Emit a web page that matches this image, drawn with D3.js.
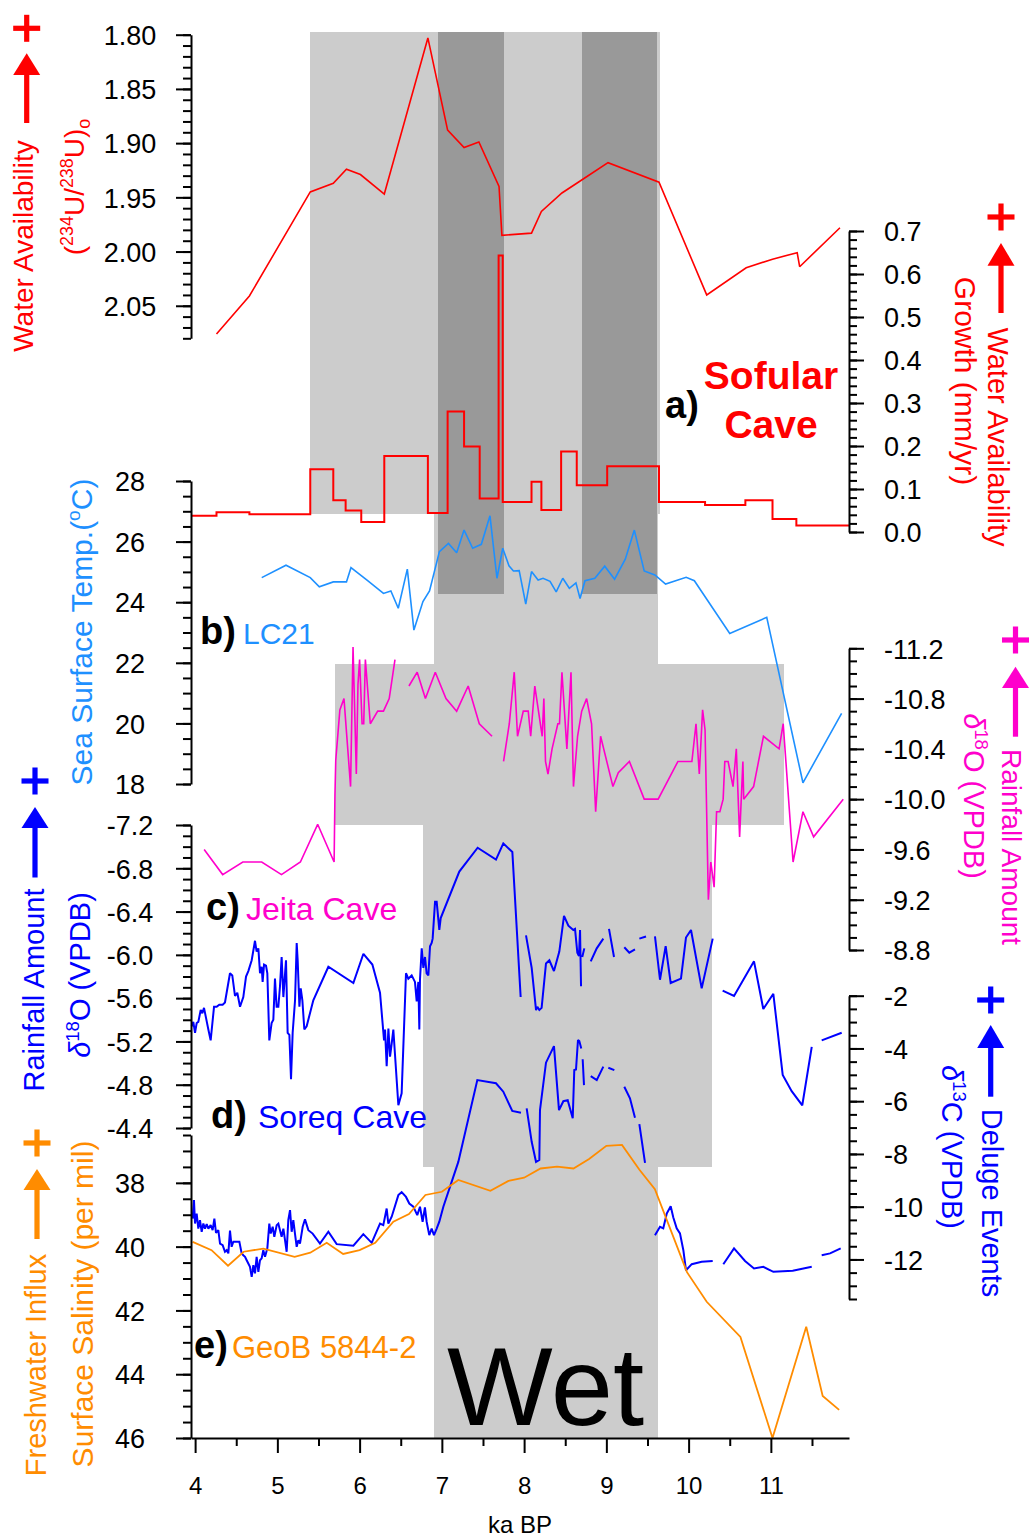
<!DOCTYPE html>
<html>
<head>
<meta charset="utf-8">
<script src="https://cdn.jsdelivr.net/npm/d3@7"></script>
<style>
  body { margin: 0; background: #fff; }
  svg { display: block; }
  text { font-family: "Liberation Sans", Arial, Helvetica, sans-serif; }
</style>
</head>
<body>
<svg id="chart" width="1029" height="1537"></svg>
<script>
// ---------------- Records (age in ka BP, value) ----------------
// a) Sofular Cave initial (234U/238U)
const uranium = [[4.26,2.076],[4.66,2.041],[5.40,1.945],[5.68,1.937],[5.84,1.924],[6.01,1.929],[6.30,1.947],
  [6.83,1.803],[7.07,1.888],[7.27,1.904],[7.45,1.899],[7.695,1.940],[7.73,1.985],[8.09,1.983],[8.21,1.963],
  [8.46,1.946],[8.70,1.934],[9.02,1.918],[9.64,1.936],[10.22,2.040],[10.70,2.015],[11.02,2.007],[11.32,2.001],
  [11.35,2.014],[11.84,1.978]];

// a) Sofular Cave growth rate (mm/yr), step starts
const growth = [[3.95,0.038],[4.26,0.046],[4.66,0.041],[5.40,0.146],[5.68,0.074],[5.83,0.050],[6.02,0.023],
  [6.30,0.177],[6.83,0.044],[7.07,0.280],[7.27,0.199],[7.46,0.078],[7.69,0.643],[7.74,0.070],[8.09,0.117],
  [8.21,0.051],[8.45,0.187],[8.64,0.109],[9.01,0.153],[9.64,0.070],[10.20,0.063],[10.69,0.074],[11.02,0.030],
  [11.31,0.015],[11.95,0.015]];

// b) LC21 sea surface temperature (degC)
const sst = [[4.81,24.81],[5.105,25.22],[5.40,24.81],[5.51,24.51],[5.68,24.67],[5.84,24.67],[5.895,25.14],
  [6.09,24.73],[6.29,24.29],[6.38,24.37],[6.47,23.80],[6.58,25.09],[6.66,23.08],[6.77,24.02],[6.85,24.37],
  [6.97,25.67],[7.08,25.94],[7.18,25.63],[7.27,26.38],[7.375,25.78],[7.48,25.91],[7.585,26.85],[7.67,24.79],
  [7.74,25.78],[7.816,25.20],[7.87,25.03],[7.94,25.04],[8.02,23.94],[8.09,25.01],[8.17,24.73],[8.23,24.79],
  [8.315,24.69],[8.39,24.34],[8.47,24.79],[8.55,24.46],[8.63,24.64],[8.68,24.12],[8.74,24.71],[8.86,24.79],
  [8.98,25.19],[9.10,24.76],[9.23,25.42],[9.34,26.38],[9.46,25.03],[9.59,24.90],[9.72,24.60],[9.97,24.82],
  [10.07,24.71],[10.50,22.97],[10.95,23.50],[11.39,18.04],[11.86,20.33]];

// c) Jeita Cave d18O (permil VPDB); null marks a gap in the record
const jeita = [[4.11,-9.60],[4.335,-9.40],[4.58,-9.50],[4.81,-9.50],[5.05,-9.40],[5.28,-9.50],[5.49,-9.80],
  [5.69,-9.50],[5.70,-10.03],[5.71,-10.31],[5.76,-10.71],[5.81,-10.80],[5.89,-10.10],[5.92,-11.21],[5.96,-10.20],
  [5.98,-10.91],[6.00,-11.11],[6.03,-10.60],[6.05,-10.60],[6.07,-11.11],[6.13,-10.60],[6.22,-10.70],[6.29,-10.70],
  [6.36,-10.80],[6.43,-11.11], null,
  [6.60,-10.90],[6.70,-11.01],[6.80,-10.80],[6.92,-11.01],[7.05,-10.80],[7.18,-10.70],[7.32,-10.90],
  [7.455,-10.60],[7.61,-10.50], null,
  [7.75,-10.30],[7.82,-10.60],[7.88,-11.01],[7.92,-10.50],[7.99,-10.70],[8.05,-10.70],[8.08,-10.50],[8.13,-10.90],
  [8.22,-10.50],[8.24,-10.80],[8.26,-10.30],[8.29,-10.20],[8.34,-10.40],[8.41,-10.60],[8.43,-10.60],[8.46,-11.01],
  [8.52,-10.40],[8.57,-11.01],[8.60,-10.10],[8.65,-10.50],[8.70,-10.70],[8.76,-10.80],[8.82,-10.60],[8.87,-9.90],
  [8.93,-10.50],[9.08,-10.10],[9.145,-10.21],[9.28,-10.30],[9.46,-10.00],[9.63,-10.00],[9.87,-10.30],[10.04,-10.30],
  [10.09,-10.60],[10.13,-10.20],[10.17,-10.71],[10.20,-10.55],[10.24,-9.20],[10.27,-9.50],[10.31,-9.30],
  [10.34,-9.90],[10.38,-9.90],[10.42,-10.00],[10.44,-10.30],[10.48,-10.30],[10.54,-10.10],[10.58,-10.40],
  [10.62,-9.70],[10.66,-10.30],[10.67,-10.00],[10.79,-10.10],[10.91,-10.50],[11.10,-10.40],[11.15,-10.60],
  [11.27,-9.50],[11.39,-9.90],[11.52,-9.70],[11.88,-10.00]];

// c) Soreq Cave d18O (permil VPDB)
const soreqO = [[3.958,-5.34],[3.978,-5.38],[3.999,-5.28],[4.019,-5.37],[4.039,-5.38],[4.068,-5.49],[4.088,-5.46],
  [4.108,-5.51],[4.132,-5.42],[4.161,-5.31],[4.189,-5.21],[4.230,-5.52],[4.262,-5.52],[4.294,-5.54],[4.335,-5.54],
  [4.363,-5.56],[4.424,-5.83],[4.452,-5.81],[4.485,-5.62],[4.513,-5.65],[4.546,-5.52],[4.586,-5.61],[4.619,-5.80],
  [4.647,-5.85],[4.688,-5.95],[4.728,-6.13],[4.748,-6.03],[4.769,-6.06],[4.789,-5.83],[4.809,-5.89],[4.821,-5.75],
  [4.838,-5.91],[4.862,-5.90],[4.878,-5.83],[4.902,-5.21],[4.930,-5.37],[4.951,-5.40],[4.971,-5.78],[4.991,-5.52],
  [5.012,-5.52],[5.032,-5.71],[5.052,-5.98],[5.073,-5.61],[5.105,-5.95],[5.125,-5.28],[5.146,-5.26],[5.166,-4.85],
  [5.186,-5.28],[5.215,-5.58],[5.235,-6.11],[5.247,-5.95],[5.268,-5.52],[5.284,-5.69],[5.304,-5.58],[5.328,-5.31],
  [5.356,-5.34],[5.437,-5.58],[5.620,-5.89],[5.924,-5.74],[6.046,-6.01],[6.155,-5.91],[6.248,-5.65],[6.297,-5.21],
  [6.309,-5.31],[6.329,-4.97],[6.350,-5.32],[6.370,-5.06],[6.390,-5.18],[6.410,-5.31],[6.471,-4.61],[6.511,-4.72],
  [6.564,-5.83],[6.592,-5.78],[6.633,-5.81],[6.673,-5.75],[6.694,-5.57],[6.714,-5.75],[6.726,-5.31],[6.734,-5.77],
  [6.755,-6.06],[6.775,-5.88],[6.795,-5.98],[6.815,-5.83],[6.836,-5.81],[6.856,-6.08],[6.876,-6.11],[6.888,-6.15],
  [6.917,-6.49],[6.937,-6.49],[6.969,-6.23],[6.986,-6.34],[7.212,-6.77],[7.435,-6.99],[7.658,-6.88],[7.747,-7.03],
  [7.857,-6.95],[7.958,-5.61], null,
  [8.023,-6.18],[8.092,-5.88],[8.145,-5.49],[8.161,-5.52],[8.185,-5.49],[8.213,-5.51],[8.266,-5.92],[8.307,-5.95],
  [8.363,-5.85],[8.428,-6.03],[8.485,-6.36],[8.538,-6.27],[8.598,-6.23],[8.619,-6.24],[8.647,-6.02],[8.667,-5.99],
  [8.680,-6.23],[8.692,-5.71], null,
  [8.707,-5.98],[8.732,-6.06], null,
  [8.81,-5.94],[8.883,-6.06],[8.963,-6.15], null,
  [9.032,-6.24],[9.093,-5.98], null,
  [9.218,-6.07],[9.279,-6.02],[9.348,-6.05], null,
  [9.401,-6.15],[9.482,-6.17], null,
  [9.591,-6.17],[9.652,-5.77],[9.721,-6.08],[9.782,-5.74],[9.907,-5.78],[9.968,-6.16],[10.029,-6.23],[10.159,-5.69],
  [10.293,-6.15], null,
  [10.414,-5.67],[10.552,-5.62],[10.795,-5.94],[10.908,-5.50],[11.03,-5.64],[11.144,-4.89],[11.253,-4.74],
  [11.382,-4.61],[11.497,-5.15], null,
  [11.618,-5.21],[11.861,-5.28]];

// d) Soreq Cave d13C (permil VPDB)
const soreqC = [[3.970,-10.45],[3.986,-9.75],[3.999,-10.64],[4.019,-10.26],[4.039,-10.83],[4.059,-10.51],
  [4.080,-10.95],[4.100,-10.64],[4.120,-10.83],[4.141,-10.66],[4.161,-10.83],[4.189,-10.70],[4.213,-10.89],
  [4.234,-10.45],[4.254,-10.99],[4.282,-10.89],[4.303,-11.40],[4.335,-11.46],[4.363,-11.71],[4.384,-11.65],
  [4.404,-11.77],[4.424,-10.91],[4.444,-11.52],[4.465,-11.33],[4.485,-11.33],[4.513,-11.33],[4.538,-11.33],
  [4.566,-11.77],[4.586,-11.84],[4.607,-11.90],[4.627,-12.03],[4.667,-12.28],[4.688,-12.66],[4.708,-12.22],
  [4.728,-12.53],[4.748,-11.90],[4.769,-12.47],[4.789,-12.03],[4.809,-11.96],[4.829,-11.65],[4.850,-11.90],
  [4.878,-11.58],[4.902,-10.64],[4.919,-11.02],[4.943,-10.76],[4.963,-11.14],[4.992,-10.70],[5.012,-10.64],
  [5.032,-10.89],[5.052,-11.14],[5.073,-10.83],[5.093,-11.27],[5.113,-11.71],[5.133,-10.51],[5.154,-10.13],
  [5.174,-10.95],[5.194,-10.51],[5.214,-11.02],[5.235,-11.52],[5.255,-11.27],[5.275,-11.40],[5.308,-10.76],
  [5.336,-10.48],[5.377,-10.89],[5.429,-11.02],[5.518,-11.40],[5.620,-10.95],[5.721,-11.42],[5.924,-11.48],
  [6.045,-11.04],[6.147,-11.37],[6.248,-10.64],[6.288,-10.70],[6.329,-10.07],[6.349,-10.64],[6.390,-10.38],
  [6.471,-9.56],[6.511,-9.45],[6.564,-9.63],[6.604,-9.88],[6.653,-10.00],[6.701,-10.32],[6.734,-10.00],
  [6.766,-10.57],[6.794,-10.03],[6.815,-10.57],[6.847,-11.08],[6.876,-10.83],[6.904,-11.08],[6.937,-10.83],
  [6.969,-10.57],[7.018,-10.00],[7.200,-8.30],[7.431,-5.20],[7.658,-5.32],[7.747,-5.64],[7.856,-6.37],
  [7.962,-6.44], null,
  [8.031,-6.27],[8.092,-7.54],[8.145,-8.30],[8.185,-8.23],[8.193,-6.34],[8.266,-4.54],[8.363,-3.91],[8.424,-6.34],
  [8.477,-6.00],[8.530,-5.96],[8.591,-6.65],[8.610,-4.82],[8.631,-4.80],[8.655,-3.68],[8.671,-3.72],[8.695,-4.00], null,
  [8.712,-4.41],[8.728,-5.39], null,
  [8.81,-5.05],[8.883,-5.20],[8.963,-4.69], null,
  [9.024,-4.73],[9.097,-4.82], null,
  [9.218,-5.45],[9.287,-5.89],[9.348,-6.63], null,
  [9.401,-6.87],[9.470,-8.34], null,
  [9.591,-11.08],[9.652,-10.76],[9.692,-10.82],[9.734,-10.26],[9.782,-9.98],[9.814,-10.41],[9.855,-10.82],
  [9.895,-11.01],[9.936,-11.65],[9.968,-12.41],[10.038,-12.18],[10.159,-12.09],[10.293,-12.06], null,
  [10.422,-12.18],[10.552,-11.58],[10.686,-12.06],[10.795,-12.34],[10.908,-12.28],[11.030,-12.47],[11.266,-12.43],
  [11.497,-12.28], null,
  [11.618,-11.84],[11.72,-11.77],[11.849,-11.58]];

// e) GeoB 5844-2 surface salinity (permil)
const salinity = [[3.97,39.85],[4.20,40.11],[4.40,40.60],[4.59,40.16],[4.83,40.06],[5.21,40.32],[5.40,40.19],
  [5.60,39.88],[5.80,40.23],[6.00,40.11],[6.19,39.88],[6.41,39.22],[6.60,38.98],[6.80,38.38],[7.00,38.28],
  [7.20,37.91],[7.59,38.25],[7.81,37.94],[8.00,37.84],[8.20,37.55],[8.40,37.49],[8.60,37.55],[8.79,37.25],
  [9.00,36.84],[9.19,36.81],[9.40,37.58],[9.59,38.20],[9.98,40.80],[10.22,41.73],[10.63,42.83],[11.02,46.0],
  [11.43,42.51],[11.63,44.68],[11.83,45.12]];

// Humid-period shading: [panel band, start ka, end ka]
const wetPeriod = [["a",5.40,9.65],["b",6.90,9.63],["c",5.70,11.16],["d",6.77,10.28],["e",6.90,9.63]];
// Wettest intervals (dark shading)
const wettest = [[6.95,7.75],[8.70,9.61]];

// Tick values
const ageTicks = [4,5,6,7,8,9,10,11];
const uTicks = [1.80,1.85,1.90,1.95,2.00,2.05];
const growthTicks = [0,0.1,0.2,0.3,0.4,0.5,0.6,0.7];
const sstTicks = [18,20,22,24,26,28];
const jeitaTicks = [-11.2,-10.8,-10.4,-10.0,-9.6,-9.2,-8.8];
const soreqOTicks = [-7.2,-6.8,-6.4,-6.0,-5.6,-5.2,-4.8,-4.4];
const soreqCTicks = [-2,-4,-6,-8,-10,-12];
const salinityTicks = [38,40,42,44,46];

// ---------------- Layout ----------------
const svg = d3.select("#chart");
const LEFT = 191, RIGHT = 849, BOTTOM = 1438;
const bandY = { a:[31.7,514], b:[514,664], c:[664,825], d:[825,1167], e:[1167,1438] };
const darkY = [32, 594];

const C = { red:"#ff0000", sst:"#1e90ff", jeita:"#ff00cc", soreq:"#0000ff", sal:"#ff8c00" };

const loc = d3.formatLocale({ decimal: ".", thousands: ",", grouping: [3], currency: ["", ""], minus: "-" });
const f1 = loc.format(".1f"), f2 = loc.format(".2f"), f0 = loc.format("d");
const steps = (a, b, s) => d3.range(Math.round((b - a) / s) + 1).map(i => +(a + i * s).toFixed(4));

// Scales
const x = d3.scaleLinear().domain([3.95, 11.95]).range([LEFT, RIGHT]);
const yU = d3.scaleLinear().domain([1.80, 2.08]).range([34.7, 338.3]);
const yG = d3.scaleLinear().domain([0, 0.7]).range([532, 231]);
const yT = d3.scaleLinear().domain([18, 28]).range([784, 481]);
const yJ = d3.scaleLinear().domain([-11.2, -8.8]).range([648.3, 950]);
const yO = d3.scaleLinear().domain([-7.2, -4.4]).range([825, 1128]);
const yC = d3.scaleLinear().domain([-13.5, -2]).range([1299, 995.7]);
const yS = d3.scaleLinear().domain([36.5, 46]).range([1135, 1438]);

// ---------------- Shading ----------------
const shade = svg.append("g").attr("shape-rendering", "crispEdges");
shade.selectAll("rect.wet").data(wetPeriod).join("rect")
  .attr("x", d => x(d[1])).attr("width", d => x(d[2]) - x(d[1]))
  .attr("y", d => bandY[d[0]][0]).attr("height", d => bandY[d[0]][1] - bandY[d[0]][0])
  .attr("fill", "#cccccc");
shade.selectAll("rect.dark").data(wettest).join("rect")
  .attr("x", d => x(d[0])).attr("width", d => x(d[1]) - x(d[0]))
  .attr("y", darkY[0]).attr("height", darkY[1] - darkY[0])
  .attr("fill", "#999999");

// ---------------- Series ----------------
function drawSeries(data, yScale, color, width, curve) {
  const gen = d3.line().defined(d => d != null).x(d => x(d[0])).y(d => yScale(d[1]));
  if (curve) gen.curve(curve);
  svg.append("path").datum(data).attr("d", gen)
    .attr("fill", "none").attr("stroke", color).attr("stroke-width", width)
    .attr("stroke-linejoin", "miter").attr("stroke-miterlimit", 2);
}
drawSeries(uranium, yU, C.red, 1.6);
drawSeries(growth, yG, C.red, 2, d3.curveStepAfter);
drawSeries(sst, yT, C.sst, 1.6);
drawSeries(jeita, yJ, C.jeita, 1.6);
drawSeries(soreqO, yO, C.soreq, 2);
drawSeries(soreqC, yC, C.soreq, 2);
drawSeries(salinity, yS, C.sal, 1.8);

// ---------------- Axes ----------------
function styleAxis(g) {
  g.attr("font-family", null).attr("font-size", null);
  g.selectAll("line,path").attr("stroke", "#000").attr("stroke-width", 2);
  g.selectAll("text").attr("fill", "#000");
}
function yAxis(scale, side, majors, minors, fmt) {
  const mk = side === "left" ? d3.axisLeft : d3.axisRight;
  const xPos = side === "left" ? LEFT : RIGHT;
  const gMin = svg.append("g").attr("transform", `translate(${xPos},0)`)
    .call(mk(scale).tickValues(minors).tickSize(8).tickSizeOuter(0).tickFormat(""));
  gMin.select(".domain").remove();
  styleAxis(gMin);
  const g = svg.append("g").attr("transform", `translate(${xPos},0)`)
    .call(mk(scale).tickValues(majors).tickSize(15).tickSizeOuter(0).tickFormat(fmt));
  styleAxis(g);
  const t = g.selectAll("text").attr("font-size", 27).attr("dy", "0.36em");
  if (side === "left") t.attr("x", -61).attr("text-anchor", "middle");
  else t.attr("x", 35).attr("text-anchor", "start");
}
yAxis(yU, "left", uTicks, steps(1.80, 2.08, 0.01), f2);
yAxis(yG, "right", growthTicks, steps(0, 0.7, 0.02), f1);
yAxis(yT, "left", sstTicks, steps(18, 28, 0.5), f0);
yAxis(yJ, "right", jeitaTicks, steps(-11.2, -8.8, 0.1), f1);
yAxis(yO, "left", soreqOTicks, steps(-7.2, -4.4, 0.1), f1);
yAxis(yC, "right", soreqCTicks, steps(-13.5, -2, 0.5), f0);
yAxis(yS, "left", salinityTicks, steps(36.5, 46, 0.5), f0);

{
  const gMin = svg.append("g").attr("transform", `translate(0,${BOTTOM})`)
    .call(d3.axisBottom(x).tickValues(steps(4.5, 11.5, 1)).tickSize(8).tickSizeOuter(0).tickFormat(""));
  gMin.select(".domain").remove();
  styleAxis(gMin);
  const g = svg.append("g").attr("transform", `translate(0,${BOTTOM})`)
    .call(d3.axisBottom(x).tickValues(ageTicks).tickSize(15).tickSizeOuter(0).tickFormat(f0));
  styleAxis(g);
  g.selectAll("text").attr("font-size", 24).attr("y", 47).attr("dy", "0.36em");
}
svg.append("text").attr("x", 520).attr("y", 1533).attr("text-anchor", "middle")
  .attr("font-size", 24).text("ka BP");

// ---------------- Axis titles ----------------
function title(cx, cy, angle, color, size, parts) {
  const g = svg.append("g").attr("transform", `translate(${cx},${cy}) rotate(${angle})`);
  const t = g.append("text").attr("text-anchor", "middle").attr("y", 0.358 * size)
    .attr("font-size", size).attr("fill", color);
  let shift = 0;
  parts.forEach(p => {
    const [s, kind] = Array.isArray(p) ? p : [p, "n"];
    const target = kind === "sup" ? -0.4 * size : kind === "sub" ? 0.22 * size : 0;
    const ts = t.append("tspan").text(s).attr("dy", target - shift);
    if (kind === "sup" || kind === "sub") ts.attr("font-size", size * 0.64);
    if (kind === "it") ts.attr("font-style", "italic");
    shift = target;
  });
}
// left side
title(23, 246, -90, C.red, 28, ["Water Availability"]);
title(74, 187, -90, C.red, 28, ["(", ["234","sup"], "U/", ["238","sup"], "U)", ["o","sub"]]);
title(81, 632, -90, C.sst, 30, ["Sea Surface Temp.(", ["o","sup"], "C)"]);
title(34, 990, -90, C.soreq, 29, ["Rainfall Amount"]);
title(80, 975, -90, C.soreq, 29, [["δ","it"], ["18","sup"], "O (VPDB)"]);
title(36, 1365, -90, C.sal, 29, ["Freshwater Influx"]);
title(82, 1304, -90, C.sal, 30, ["Surface Salinity (per mil)"]);
// right side
title(998, 437, 90, C.red, 29, ["Water Availability"]);
title(966, 381, 90, C.red, 30, ["Growth (mm/yr)"]);
title(974, 796, 90, C.jeita, 29, [["δ","it"], ["18","sup"], "O (VPDB)"]);
title(1012, 847, 90, C.jeita, 28, ["Rainfall Amount"]);
title(952, 1147, 90, C.soreq, 29, [["δ","it"], ["13","sup"], "C (VPDB)"]);
title(992, 1203, 90, C.soreq, 29, ["Deluge Events"]);

// ---------------- "+" and arrows ----------------
const markers = [
  { cx: 26.7, plus: 28.3, tip: 53.3, base: 75, end: 123, color: C.red },
  { cx: 1001, plus: 217, tip: 243, base: 265.7, end: 313, color: C.red },
  { cx: 1015.5, plus: 640, tip: 666.7, base: 688, end: 736.7, color: C.jeita },
  { cx: 35, plus: 781, tip: 807, base: 828, end: 877.5, color: C.soreq },
  { cx: 990.7, plus: 1000, tip: 1025, base: 1048, end: 1096.7, color: C.soreq },
  { cx: 37, plus: 1143, tip: 1169, base: 1190, end: 1239, color: C.sal }
];
markers.forEach(m => {
  const g = svg.append("g").attr("fill", m.color);
  g.append("rect").attr("x", m.cx - 2.6).attr("y", m.base - 1).attr("width", 5.2).attr("height", m.end - m.base + 1);
  g.append("path").attr("d", `M${m.cx - 13.5},${m.base}L${m.cx + 13.5},${m.base}L${m.cx},${m.tip}Z`);
  g.append("rect").attr("x", m.cx - 13.5).attr("y", m.plus - 2.6).attr("width", 27).attr("height", 5.2);
  g.append("rect").attr("x", m.cx - 2.6).attr("y", m.plus - 13.5).attr("width", 5.2).attr("height", 27);
});

// ---------------- Panel labels ----------------
function label(xp, yp, txt, color, size, bold) {
  svg.append("text").attr("x", xp).attr("y", yp).attr("fill", color).attr("font-size", size)
    .attr("font-weight", bold ? "bold" : "normal").text(txt);
}
label(665, 418, "a)", "#000", 38, true);
svg.append("text").attr("x", 771).attr("y", 389).attr("text-anchor", "middle").attr("fill", C.red)
  .attr("font-size", 39).attr("font-weight", "bold").text("Sofular");
svg.append("text").attr("x", 771).attr("y", 438).attr("text-anchor", "middle").attr("fill", C.red)
  .attr("font-size", 39).attr("font-weight", "bold").text("Cave");
label(200, 644, "b)", "#000", 38, true);
label(243, 644, "LC21", C.sst, 30, false);
label(206, 920, "c)", "#000", 38, true);
label(246, 920, "Jeita Cave", C.jeita, 32, false);
label(211, 1128, "d)", "#000", 38, true);
label(258, 1128, "Soreq Cave", C.soreq, 32, false);
label(194, 1358, "e)", "#000", 38, true);
label(232, 1358, "GeoB 5844-2", C.sal, 31, false);
label(447, 1425, "Wet", "#000", 112, false);
</script>
</body>
</html>
